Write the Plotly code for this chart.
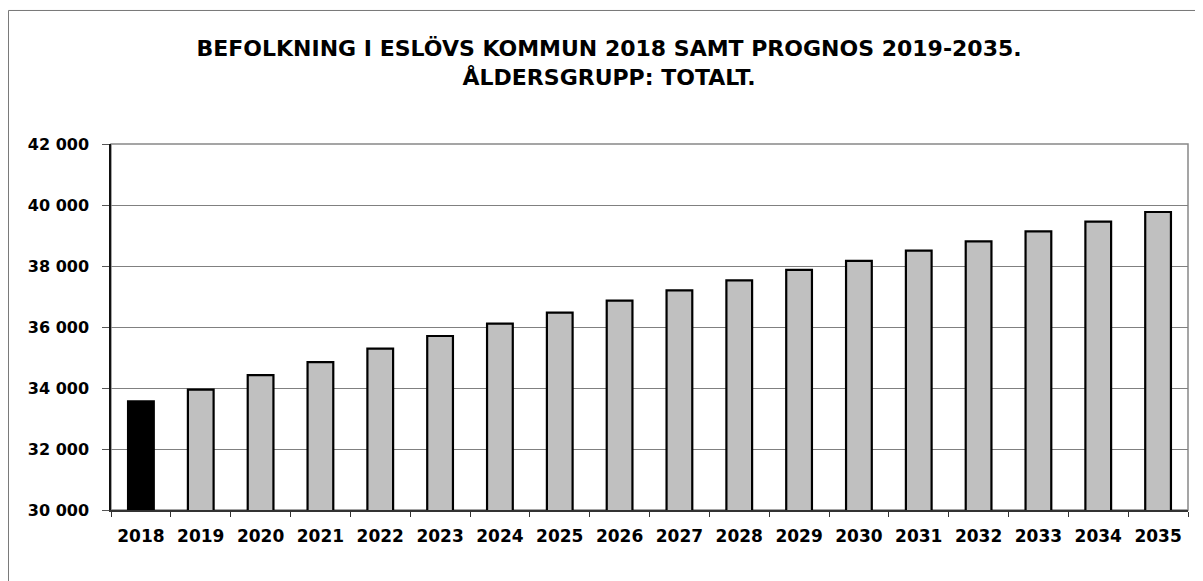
import plotly.graph_objects as go

years = [str(y) for y in range(2018, 2036)]
population = [33560, 33945, 34425, 34850, 35290, 35705, 36110, 36470, 36865,
              37200, 37530, 37870, 38170, 38505, 38810, 39135, 39455, 39770]
bar_colors = ["#000000"] + ["#C0C0C0"] * 17

y_ticks = [30000, 32000, 34000, 36000, 38000, 40000, 42000]
y_labels = ["30 000", "32 000", "34 000", "36 000", "38 000", "40 000", "42 000"]

font_family = "DejaVu Sans, Arial, sans-serif"

fig = go.Figure()

fig.add_trace(go.Bar(
    x=years,
    y=population,
    marker=dict(color=bar_colors, line=dict(color="black", width=2.2)),
    width=0.43,
    showlegend=False
))

# outer chart frame
fig.add_shape(type="rect", xref="paper", yref="paper",
              x0=-0.0952, x1=1.05, y0=-0.5, y1=1.3648,
              line=dict(color="#777777", width=1), layer="below")
# plot area frame
fig.add_shape(type="rect", xref="paper", yref="paper",
              x0=0, x1=1, y0=0, y1=1,
              line=dict(color="#888888", width=1.5), layer="below")

# page body has an 8px margin, so the figure is sized to fit the window
fig.update_layout(
    width=1195, height=573,
    margin=dict(l=103, r=15, t=136, b=71),
    paper_bgcolor="white",
    plot_bgcolor="white",
    title=dict(
        text="BEFOLKNING I ESLÖVS KOMMUN 2018 SAMT PROGNOS 2019-2035.<br>ÅLDERSGRUPP: TOTALT.",
        x=0.503, xanchor="center", y=0.916, yanchor="middle",
        font=dict(family=font_family, size=22, color="black", weight="bold")
    ),
    font=dict(family=font_family, color="black"),
    xaxis=dict(
        type="category",
        tickson="boundaries",
        ticks="outside", ticklen=5, tickcolor="#333333",
        showline=True, linecolor="#333333", linewidth=1.5,
        showgrid=False,
        tickfont=dict(family=font_family, size=17, weight="bold", color="black"),
        ticklabelstandoff=10
    ),
    yaxis=dict(
        range=[30000, 42000],
        tickvals=y_ticks, ticktext=y_labels,
        ticks="outside", ticklen=7, tickcolor="#555555",
        showline=True, linecolor="#111111", linewidth=1.5,
        showgrid=True, gridcolor="#808080", gridwidth=1,
        tickfont=dict(family=font_family, size=16, weight="bold", color="black"),
        ticklabelstandoff=10,
        zeroline=False
    ),
    bargap=0.57
)

fig.write_html("out.html")
